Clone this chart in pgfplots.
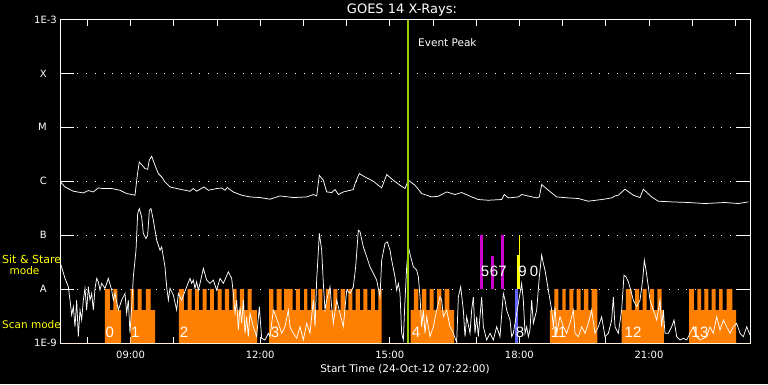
\documentclass[border=0pt]{standalone}
\usepackage{pgfplots}
\pgfplotsset{compat=1.18}
\usepackage{fontspec}
\setmainfont{DejaVu Sans}
\newfontfamily\numfont{Liberation Sans}
\definecolor{orangeC}{RGB}{255,128,0}
\definecolor{magC}{RGB}{204,0,204}
\definecolor{blueC}{RGB}{100,100,255}
\definecolor{greenC}{RGB}{153,204,0}
\definecolor{yelC}{RGB}{255,255,0}
\begin{document}
\begin{tikzpicture}[x=1pt,y=1pt]
\fill[black] (0,0) rectangle (768,384);
\begin{axis}[at={(60pt,41pt)}, anchor=south west, scale only axis,
  width=690pt, height=323.5pt,
  xmin=7.3667, xmax=23.339, ymin=-9, ymax=-3,
  axis line style={white, line width=0.9pt},
  xtick={9,12,15,18,21}, xticklabels={09:00,12:00,15:00,18:00,21:00},
  minor xtick={8,10,11,13,14,16,17,19,20,22,23},
  ytick={-9,-8,-7,-6,-5,-4,-3},
  yticklabels={1E-9,A\hspace*{10pt},B\hspace*{10pt},C\hspace*{10pt},M\hspace*{10pt},X\hspace*{10pt},1E-3},
  tick style={white, line width=0.9pt},
  xtick style={/pgfplots/major tick length=6pt, /pgfplots/minor tick length=6pt},
  ytick style={/pgfplots/major tick length=14pt},
  ymajorgrids,
  y grid style={white, line width=0.9pt, dash pattern=on 0.9pt off 7.8pt},
  xticklabel style={text=white, inner sep=0pt, yshift=-8pt, font=\fontsize{10}{12}\selectfont},
  yticklabel style={text=white, inner sep=0pt, xshift=-3pt, font=\fontsize{10}{12}\selectfont},
]
% orange mode bars (sit & stare up to A, scan mode to ~4e-9)
\addplot[const plot, draw=none, fill=orangeC] coordinates {
(7.367,-9)
(8.408,-8)(8.524,-8.389)(8.600,-8)(8.693,-8.389)(8.779,-9)
(9.003,-8)(9.080,-8.389)(9.165,-8)(9.258,-8.389)(9.357,-8)(9.466,-8.389)(9.566,-9)
(10.121,-8)(10.237,-8.389)(10.322,-8)(10.415,-8.389)(10.492,-8)(10.584,-8.389)(10.670,-8)(10.762,-8.389)(10.839,-8)(10.931,-8.389)(11.017,-8)(11.110,-8.389)(11.186,-8)(11.279,-8.389)(11.364,-8)(11.457,-8.389)(11.533,-8)(11.626,-8.389)(11.712,-8)(11.804,-8.389)(11.927,-9)
(12.205,-8)(12.304,-8.389)(12.383,-8)(12.498,-8.389)(12.552,-8)(12.753,-8.389)(12.829,-8)(12.922,-8.389)(13.015,-8)(13.091,-8.389)(13.177,-8)(13.269,-8.389)(13.346,-8)(13.438,-8.389)(13.524,-8)(13.617,-8.389)(13.693,-8)(13.786,-8.389)(13.865,-8)(13.964,-8.389)(14.040,-8)(14.133,-8.389)(14.212,-8)(14.311,-8.389)(14.388,-8)(14.480,-8.389)(14.566,-8)(14.658,-8.389)(14.735,-8)(14.813,-9)
(15.485,-8.389)(15.561,-8)(15.665,-8.389)(15.746,-8)(15.850,-8.389)(15.924,-8)(16.017,-8.389)(16.098,-8)(16.193,-8.389)(16.272,-8)(16.378,-8.389)(16.487,-9)
(18.709,-8.389)(18.809,-8)(18.901,-8.389)(18.994,-8)(19.072,-8.389)(19.156,-8)(19.248,-8.389)(19.327,-8)(19.420,-8.389)(19.496,-8)(19.596,-8.389)(19.675,-8)(19.804,-9)
(20.369,-8.389)(20.468,-8)(20.600,-8.389)(20.677,-8)(20.770,-8.389)(20.855,-8)(20.948,-8.389)(21.024,-8)(21.117,-8.389)(21.193,-8)(21.295,-8.389)(21.348,-9)
(21.927,-8)(22.042,-8.389)(22.119,-8)(22.205,-8.389)(22.281,-8)(22.374,-8.389)(22.452,-8)(22.545,-8.389)(22.622,-8)(22.707,-8.389)(22.800,-8)(22.929,-8.389)(23.015,-9)
(23.339,-9)} -- cycle;
% event markers
\addplot[draw=none, fill=magC] coordinates {(17.089,-8)(17.158,-8)(17.158,-7)(17.089,-7)} -- cycle;
\addplot[draw=none, fill=magC] coordinates {(17.343,-8)(17.413,-8)(17.413,-7.389)(17.343,-7.389)} -- cycle;
\addplot[draw=none, fill=magC] coordinates {(17.575,-8)(17.644,-8)(17.644,-7)(17.575,-7)} -- cycle;
\addplot[draw=none, fill=blueC] coordinates {(17.899,-9)(17.969,-9)(17.969,-8)(17.899,-8)} -- cycle;
\addplot[draw=none, fill=yelC] coordinates {(17.946,-8)(18.015,-8)(18.015,-7.370)(17.946,-7.370)} -- cycle;
\addplot[yelC, line width=0.8pt] coordinates {(18.000,-7.370)(18.000,-7)};
% segment numbers
\begin{scope}[every node/.style={text=white, font=\numfont\fontsize{15}{16}\selectfont, inner sep=0pt}]
\node at (axis cs:8.517,-8.806) {0};
\node at (axis cs:9.110,-8.806) {1};
\node at (axis cs:10.237,-8.806) {2};
\node at (axis cs:12.344,-8.806) {3};
\node at (axis cs:15.607,-8.806) {4};
\node at (axis cs:17.205,-7.680) {5};
\node at (axis cs:17.413,-7.680) {6};
\node at (axis cs:17.610,-7.680) {7};
\node at (axis cs:18.015,-8.806) {8};
\node at (axis cs:18.073,-7.680) {9};
\node at (axis cs:18.339,-7.680) {0};
\node at (axis cs:18.911,-8.806) {11};
\node at (axis cs:20.631,-8.806) {12};
\node at (axis cs:22.182,-8.806) {13};
\end{scope}
% long-channel (1-8 A) flux, log10 W/m^2
\addplot[white, line width=0.75pt] coordinates {
(7.367,-6.000)(7.482,-6.106)(7.674,-6.185)(7.906,-6.217)(8.022,-6.172)(8.137,-6.198)(8.253,-6.124)(8.369,-6.135)(8.563,-6.135)(8.755,-6.167)(8.911,-6.228)(9.103,-6.259)(9.156,-5.889)(9.202,-5.643)(9.334,-5.765)(9.397,-5.778)(9.432,-5.611)(9.489,-5.537)(9.566,-5.704)(9.642,-5.857)(9.721,-5.920)(9.797,-6.013)(9.913,-6.106)(10.144,-6.148)(10.376,-6.185)(10.452,-6.135)(10.531,-6.185)(10.700,-6.106)(10.800,-6.167)(10.994,-6.135)(11.110,-6.124)(11.186,-6.167)(11.239,-6.117)(11.378,-6.198)(11.573,-6.259)(11.765,-6.291)(11.996,-6.302)(12.228,-6.333)(12.459,-6.272)(12.767,-6.302)(13.077,-6.291)(13.230,-6.246)(13.309,-6.272)(13.369,-5.889)(13.462,-5.981)(13.540,-6.198)(13.656,-6.209)(13.733,-6.154)(13.809,-6.246)(13.925,-6.198)(14.156,-6.154)(14.196,-6.043)(14.295,-5.857)(14.427,-5.920)(14.619,-6.000)(14.813,-6.124)(14.929,-5.876)(15.082,-5.981)(15.237,-6.074)(15.353,-6.135)(15.429,-5.981)(15.584,-6.074)(15.740,-6.228)(15.971,-6.291)(16.124,-6.278)(16.318,-6.198)(16.510,-6.246)(16.665,-6.209)(16.897,-6.291)(17.049,-6.339)(17.281,-6.352)(17.591,-6.339)(17.651,-6.246)(17.744,-6.309)(17.975,-6.291)(18.054,-6.246)(18.401,-6.309)(18.462,-6.291)(18.517,-6.061)(18.670,-6.167)(18.864,-6.291)(19.133,-6.309)(19.364,-6.320)(19.596,-6.370)(19.906,-6.339)(20.138,-6.309)(20.214,-6.272)(20.290,-6.259)(20.445,-6.148)(20.638,-6.259)(20.793,-6.302)(20.869,-6.148)(21.064,-6.291)(21.216,-6.370)(21.526,-6.383)(21.910,-6.394)(22.297,-6.413)(22.760,-6.394)(23.068,-6.413)(23.299,-6.383)};
% short-channel (0.5-4 A) flux, log10 W/m^2
\addplot[white, line width=0.75pt] coordinates {
(7.367,-7.494)(7.483,-7.802)(7.560,-7.957)(7.598,-8.204)(7.637,-8.481)(7.675,-8.328)(7.714,-8.698)(7.753,-8.204)(7.791,-8.883)(7.830,-8.389)(7.868,-8.574)(7.907,-8.204)(7.945,-7.987)(7.984,-8.389)(8.023,-7.957)(8.061,-8.204)(8.100,-8.080)(8.138,-8.389)(8.177,-7.987)(8.216,-7.802)(8.254,-7.865)(8.293,-8.019)(8.331,-7.894)(8.408,-7.987)(8.485,-7.802)(8.563,-8.019)(8.601,-8.204)(8.640,-8.080)(8.717,-8.389)(8.794,-8.204)(8.871,-8.080)(8.910,-8.450)(8.948,-8.204)(8.987,-8.820)(9.026,-8.328)(9.064,-7.772)(9.126,-7.278)(9.165,-6.598)(9.203,-6.506)(9.257,-6.661)(9.296,-6.969)(9.357,-7.061)(9.396,-7.000)(9.435,-6.537)(9.473,-6.506)(9.527,-6.722)(9.605,-7.093)(9.682,-7.278)(9.720,-7.217)(9.797,-7.587)(9.836,-7.957)(9.875,-8.204)(9.913,-7.987)(9.990,-8.111)(10.067,-8.389)(10.106,-8.080)(10.183,-8.204)(10.299,-7.957)(10.376,-7.802)(10.415,-7.894)(10.453,-7.833)(10.492,-7.987)(10.530,-7.865)(10.569,-8.019)(10.608,-7.894)(10.685,-7.617)(10.762,-7.833)(10.839,-7.894)(10.916,-7.833)(10.993,-8.019)(11.071,-7.802)(11.148,-7.894)(11.263,-7.680)(11.341,-7.802)(11.379,-8.080)(11.418,-8.450)(11.456,-8.204)(11.495,-8.759)(11.534,-8.328)(11.572,-8.635)(11.611,-8.204)(11.649,-8.820)(11.688,-8.513)(11.726,-8.883)(11.765,-8.450)(11.842,-8.698)(11.919,-8.883)(11.981,-8.328)(12.035,-8.913)(12.112,-8.944)(12.189,-8.820)(12.228,-8.883)(12.305,-8.389)(12.367,-8.513)(12.421,-8.635)(12.498,-8.820)(12.575,-8.698)(12.652,-8.389)
(12.691,-8.698)(12.768,-8.820)(12.845,-8.913)(12.922,-8.698)(12.999,-8.944)(13.077,-8.635)(13.154,-8.820)(13.231,-8.204)(13.270,-8.698)(13.308,-7.833)(13.370,-6.969)(13.424,-7.278)(13.462,-7.894)(13.501,-8.389)(13.540,-8.204)(13.578,-8.080)(13.617,-7.957)(13.655,-8.328)(13.694,-8.635)(13.771,-8.204)(13.848,-8.450)(13.925,-8.698)(14.003,-8.019)(14.080,-8.080)(14.157,-7.957)(14.211,-7.587)(14.273,-6.907)(14.311,-6.935)(14.388,-7.217)(14.466,-7.402)(14.543,-7.587)(14.620,-7.709)(14.697,-7.833)(14.774,-8.143)(14.813,-7.463)(14.890,-7.154)(14.944,-7.124)(15.006,-7.278)(15.044,-7.463)(15.121,-7.772)(15.160,-8.019)(15.199,-7.894)(15.237,-8.080)(15.276,-8.820)(15.314,-8.944)(15.353,-8.204)(15.392,-7.587)(15.430,-7.217)(15.484,-7.402)(15.546,-7.587)(15.623,-7.648)(15.662,-7.772)(15.700,-8.143)(15.739,-8.698)(15.777,-8.389)(15.816,-8.820)(15.855,-8.513)(15.932,-8.883)(16.009,-8.698)(16.086,-8.389)(16.163,-8.143)(16.202,-8.204)(16.240,-8.513)(16.317,-8.389)(16.395,-8.698)(16.472,-8.820)(16.549,-8.990)(16.588,-8.143)(16.642,-7.957)(16.703,-8.389)(16.742,-8.883)(16.780,-8.513)(16.858,-8.820)(16.896,-8.389)(16.935,-8.143)(16.973,-8.820)(17.012,-8.513)(17.050,-8.883)(17.128,-8.143)(17.166,-8.698)(17.243,-8.944)(17.321,-8.820)(17.398,-8.944)(17.475,-8.698)(17.552,-8.883)(17.629,-8.080)(17.668,-8.204)(17.706,-8.389)(17.784,-8.574)(17.822,-8.883)(17.861,-8.820)
(18.015,-8.080)(18.053,-7.894)(18.092,-8.204)(18.131,-8.820)(18.169,-8.698)(18.208,-8.883)(18.246,-8.759)(18.285,-8.204)(18.324,-8.635)(18.401,-8.389)(18.462,-7.772)(18.516,-7.370)(18.555,-7.524)(18.594,-7.648)(18.671,-8.019)(18.709,-8.204)(18.748,-8.389)(18.787,-8.698)(18.825,-8.328)(18.864,-8.820)(18.941,-8.513)(19.018,-8.698)(19.095,-8.820)(19.172,-8.635)(19.250,-8.389)(19.288,-8.820)(19.365,-8.883)(19.442,-8.698)(19.520,-8.820)(19.597,-8.635)(19.674,-8.389)(19.751,-8.820)(19.828,-8.698)(19.905,-8.513)(19.983,-8.883)(20.060,-8.820)(20.137,-8.574)(20.175,-8.143)(20.214,-8.698)(20.291,-8.820)(20.368,-8.389)(20.422,-7.741)(20.469,-7.772)(20.523,-7.865)(20.577,-8.019)(20.638,-8.204)(20.716,-8.328)(20.793,-8.204)(20.854,-7.833)(20.893,-7.463)(20.932,-7.648)(20.986,-7.957)(21.024,-8.204)(21.101,-8.389)(21.179,-8.574)(21.256,-8.204)(21.294,-8.698)(21.333,-8.389)(21.371,-8.820)(21.448,-8.820)(21.526,-8.698)(21.580,-8.574)(21.642,-8.883)(21.719,-8.944)(21.796,-8.913)(21.873,-8.944)(22.027,-8.698)(22.105,-8.883)(22.182,-8.944)(22.336,-8.883)(22.413,-8.698)(22.490,-8.820)(22.567,-8.513)(22.645,-8.759)(22.722,-8.574)(22.799,-8.698)(22.876,-8.820)(22.953,-8.698)(23.030,-8.635)(23.108,-8.820)(23.185,-8.883)(23.262,-8.698)(23.339,-8.850)};
% event peak
\addplot[greenC, line width=1.8pt] coordinates {(15.418,-9)(15.418,-3)};
\end{axis}
\node[text=white, font=\fontsize{13}{15}\selectfont] at (402,374) {GOES 14 X-Rays:};
\node[text=white, font=\fontsize{10.5}{12}\selectfont] at (405,15) {Start Time (24-Oct-12 07:22:00)};
\node[text=white, anchor=west, inner sep=0pt, font=\fontsize{10.5}{12}\selectfont] at (418,341) {Event Peak};
\node[text=yelC, anchor=west, inner sep=0pt, font=\fontsize{11}{12}\selectfont] at (2,125) {Sit \& Stare};
\node[text=yelC, inner sep=0pt, font=\fontsize{10.5}{12}\selectfont] at (24.5,113) {mode};
\node[text=yelC, anchor=west, inner sep=0pt, font=\fontsize{10.5}{12}\selectfont] at (2,59.5) {Scan mode};
\end{tikzpicture}
\end{document}
